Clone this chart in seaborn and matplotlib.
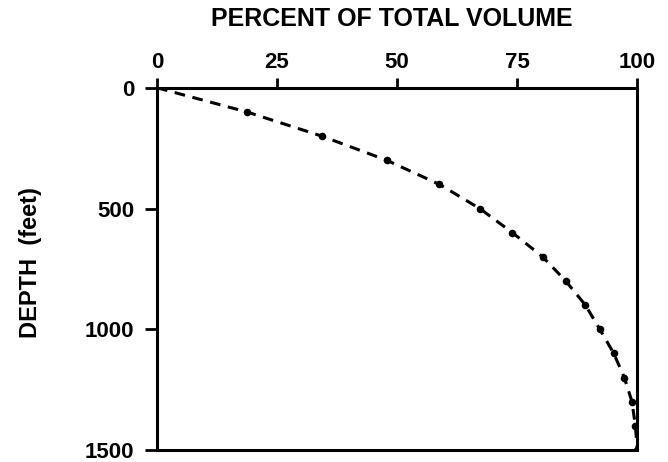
import matplotlib
matplotlib.use("Agg")
import matplotlib.pyplot as plt
import seaborn as sns
import pandas as pd

depth_ft = [0, 100, 200, 300, 400, 500, 600, 700, 800, 900, 1000, 1100, 1200, 1300, 1400, 1500]
percent_volume = [0, 18.7, 34.3, 47.8, 58.8, 67.2, 74.0, 80.3, 85.1, 89.2, 92.2, 95.1, 97.3, 98.9, 99.6, 100]
x_ticks = [0, 25, 50, 75, 100]
y_ticks = [0, 500, 1000, 1500]

df = pd.DataFrame({"pct": percent_volume, "depth": depth_ft})

sns.set_theme(style="white")
plt.rcParams["font.family"] = ["Liberation Sans", "DejaVu Sans"]
plt.rcParams["font.weight"] = "bold"

fig = plt.figure(figsize=(6.68, 4.62), dpi=100)
ax = fig.add_axes([0.235, 0.026, 0.719, 0.784])

sns.lineplot(data=df, x="pct", y="depth", ax=ax, color="black", linewidth=2.2,
             linestyle=(0, (3.5, 2.5)), sort=False, estimator=None)
sns.scatterplot(data=df.iloc[1:], x="pct", y="depth", ax=ax, color="black", s=30,
                edgecolor="black", linewidth=0, zorder=3)

ax.set_xlim(0, 100)
ax.set_ylim(1500, 0)
ax.xaxis.tick_top()
ax.set_xticks(x_ticks)
ax.set_yticks(y_ticks)
ax.set_xticklabels([str(v) for v in x_ticks], fontsize=16, fontweight="bold")
ax.set_yticklabels([str(v) for v in y_ticks], fontsize=16, fontweight="bold")
ax.tick_params(axis="x", which="both", top=True, bottom=False, direction="out",
               length=7, width=2, color="black", pad=4, labelcolor="black")
ax.tick_params(axis="y", which="both", left=True, right=False, direction="out",
               length=8.5, width=2, color="black", pad=8, labelcolor="black")
ax.set_xlabel("")
ax.set_ylabel("")
for sp in ax.spines.values():
    sp.set_visible(True)
    sp.set_color("black")
    sp.set_linewidth(2.2)

fig.text(0.587, 0.958, "PERCENT OF TOTAL VOLUME", ha="center", va="center",
         fontsize=18, fontweight="bold", color="black")
fig.text(0.046, 0.431, "DEPTH  (feet)", ha="center", va="center", rotation=90,
         fontsize=17, fontweight="bold", color="black")

fig.savefig("out.png", dpi=100)
